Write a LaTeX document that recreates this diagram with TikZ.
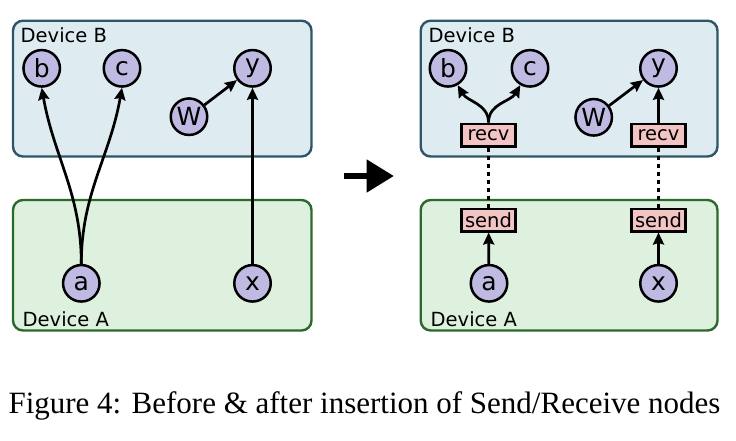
\documentclass[tikz,border=0pt]{standalone}
\usepackage{fontspec}
\setmainfont{DejaVu Sans}
\newfontfamily\capfont{Liberation Serif}
\usetikzlibrary{arrows.meta}

\definecolor{devBfill}{RGB}{222,235,241}
\definecolor{devBline}{RGB}{45,86,104}
\definecolor{devAfill}{RGB}{222,240,222}
\definecolor{devAline}{RGB}{42,106,42}
\definecolor{opfill}{RGB}{190,186,226}
\definecolor{commfill}{RGB}{242,196,196}

\tikzset{
  devB/.style={draw=devBline, fill=devBfill, line width=2.4pt, rounded corners=10pt},
  devA/.style={draw=devAline, fill=devAfill, line width=2.4pt, rounded corners=10pt},
  devlabel/.style={anchor=base west, inner sep=0pt, font=\fontsize{19.5}{23}\selectfont},
  op/.style={circle, draw=black, fill=opfill, line width=2.5pt, minimum size=36.5pt, inner sep=0pt,
             font=\fontsize{25}{30}\selectfont},
  comm/.style={rectangle, draw=black, fill=commfill, line width=2.5pt, minimum width=54pt,
               minimum height=22.5pt, inner sep=0pt, font=\fontsize{19.5}{23}\selectfont},
  flow/.style={line width=2.7pt, -{Stealth[length=12pt, width=11pt, inset=1.5pt]}},
  link/.style={line width=2.3pt, dash pattern=on 4pt off 4pt},
}

\begin{document}
\begin{tikzpicture}[x=1pt, y=1pt]
  \useasboundingbox (0,0) rectangle (736,-440);

  % ---- before: device containers
  \draw[devB] (13,-20.7) rectangle (311.5,-156.5);
  \draw[devA] (13,-200) rectangle (311.5,-330.5);
  \node[devlabel] (lB) at (20.5,-42) {Device B};
  \node[devlabel] (lA) at (22.5,-326) {Device A};

  % ---- before: operations
  \node[op] (b1) at (41.7,-68.3) {b};
  \node[op] (c1) at (122,-68.3) {c};
  \node[op] (y1) at (252.5,-68.3) {y};
  \node[op] (w1) at (189,-116.7) {W};
  \node[op] (a1) at (81.3,-283.3) {a};
  \node[op] (x1) at (252.5,-283.3) {x};

  % ---- before: edges crossing devices
  \draw[flow] (a1.north) to[out=90, in=-80] (b1.south);
  \draw[flow] (a1.north) to[out=90, in=-100] (c1.south);
  \draw[flow] (x1) -- (y1);
  \draw[flow] (w1) -- (y1);

  % ---- transformation arrow
  \coordinate (t0) at (344,-176);
  \coordinate (t1) at (394,-176);
  \draw[line width=6.7pt, -{Triangle[length=27.5pt, width=31.5pt]}] (t0) -- (t1);

  % ---- after: device containers
  \draw[devB] (420.7,-20.7) rectangle (717.5,-156.5);
  \draw[devA] (420.7,-200) rectangle (717.5,-330.5);
  \node[devlabel] (rB) at (428.5,-42) {Device B};
  \node[devlabel] (rA) at (430.5,-326) {Device A};

  % ---- after: operations
  \node[op] (b2) at (448,-68.3) {b};
  \node[op] (c2) at (530,-68.3) {c};
  \node[op] (y2) at (658.5,-68.3) {y};
  \node[op] (w2) at (593.7,-117.3) {W};
  \node[op] (a2) at (489,-283.3) {a};
  \node[op] (x2) at (658.5,-283.3) {x};

  % ---- after: send / recv pairs
  \node[comm] (r1) at (488.5,-135) {recv};
  \node[comm] (r2) at (658.5,-135) {recv};
  \node[comm] (s1) at (488.5,-220) {send};
  \node[comm] (s2) at (658.5,-220) {send};

  % ---- after: edges
  \draw[flow] (r1.north) to[out=90, in=-60] (b2.-60);
  \draw[flow] (r1.north) to[out=90, in=-120] (c2.-120);
  \draw[flow] (r2) -- (y2);
  \draw[flow] (w2) -- (y2);
  \draw[flow] (a2) -- (s1);
  \draw[flow] (x2) -- (s2);
  \draw[link] (r1.south) -- (s1.north);
  \draw[link] (r2.south) -- (s2.north);

  % ---- caption
  \node[anchor=base, inner sep=0pt, font=\capfont\fontsize{31}{36}\selectfont] (cap) at (364.5,-413)
    {Figure 4: Before \& after insertion of Send/Receive nodes};
\end{tikzpicture}
\end{document}
